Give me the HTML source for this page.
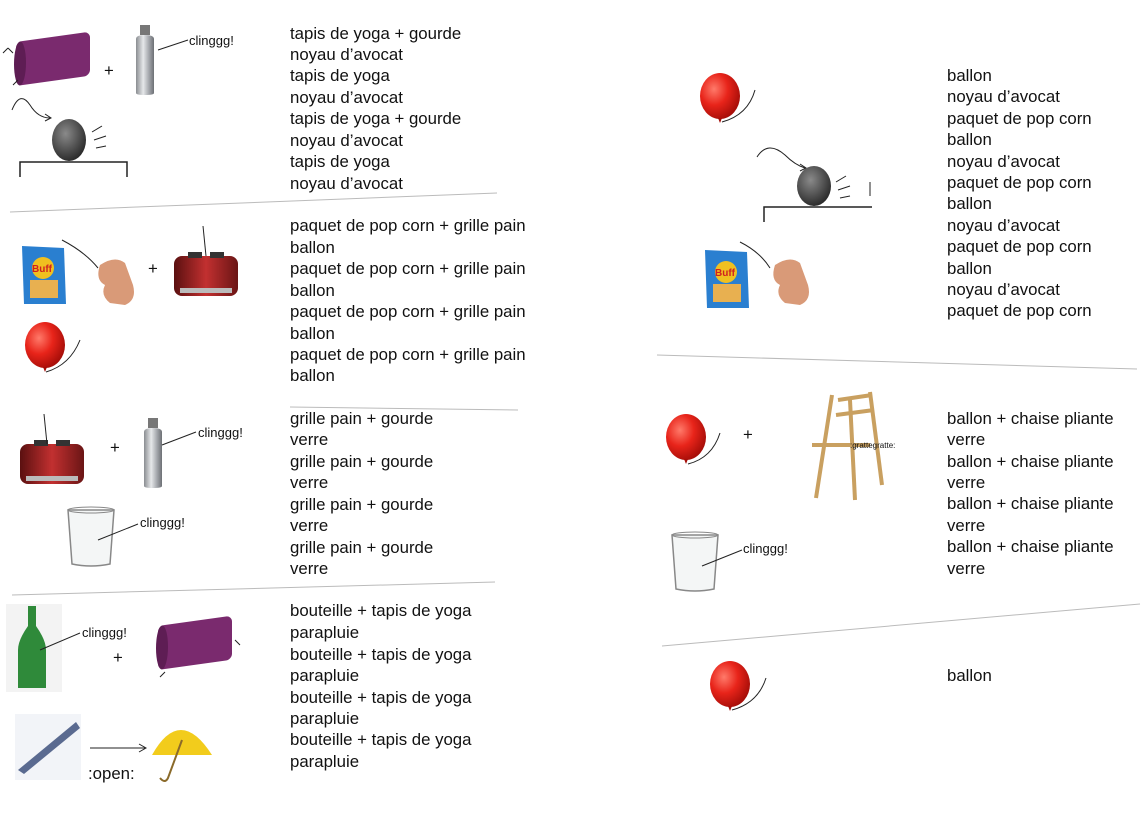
<!DOCTYPE html>
<html><head><meta charset="utf-8"><style>
html,body{margin:0;padding:0;background:#fff;}
svg{display:block;}
text{font-family:"Liberation Sans",sans-serif;fill:#111;}
.t{font-size:16.8px;}
.s{font-size:13px;}
</style></head><body>
<svg width="1142" height="816" viewBox="0 0 1142 816" xmlns="http://www.w3.org/2000/svg">
<defs>
<linearGradient id="metal" x1="0" x2="1"><stop offset="0" stop-color="#8a8d91"/><stop offset=".4" stop-color="#e6e8ea"/><stop offset=".7" stop-color="#a8abb0"/><stop offset="1" stop-color="#6d7075"/></linearGradient>
<radialGradient id="bal" cx=".35" cy=".35" r=".7"><stop offset="0" stop-color="#ff7a6a"/><stop offset=".5" stop-color="#e8241a"/><stop offset="1" stop-color="#a50d08"/></radialGradient>
<linearGradient id="toast" x1="0" x2="1"><stop offset="0" stop-color="#5a1010"/><stop offset=".5" stop-color="#c23030"/><stop offset="1" stop-color="#6a1515"/></linearGradient>
<radialGradient id="pit" cx=".4" cy=".35" r=".7"><stop offset="0" stop-color="#8a8a8a"/><stop offset="1" stop-color="#262626"/></radialGradient>
<g id="mat"><rect x="0" y="0" width="74" height="44" rx="6" fill="#7a2a6e" transform="skewY(-8)"/><ellipse cx="4" cy="22" rx="6" ry="22" fill="#5e1d54" transform="skewY(-8)"/></g>
<g id="gourd"><rect x="4" y="0" width="10" height="10" fill="#777"/><path d="M0 14 Q0 10 9 10 Q18 10 18 14 V68 Q18 70 9 70 Q0 70 0 68Z" fill="url(#metal)"/></g>
<g id="balloon"><ellipse cx="0" cy="0" rx="20" ry="23" fill="url(#bal)"/><path d="M-2 22 l4 0 l-2 5z" fill="#a50d08"/></g>
<g id="glass"><path d="M0 0 L46 0 L42 54 Q23 58 4 54 Z" fill="#f4f6f6" stroke="#888" stroke-width="1.5"/><ellipse cx="23" cy="0" rx="23" ry="3" fill="none" stroke="#888"/></g>
<g id="pop"><path d="M0 0 L42 2 L44 58 L2 58 Z" fill="#2a7fd0"/><circle cx="21" cy="22" r="11" fill="#f0c020"/><rect x="8" y="34" width="28" height="18" fill="#e8b050"/><text x="10" y="26" style="font-size:10px;font-weight:bold;fill:#d02020">Buff</text></g>
<g id="hand"><path d="M5 10 Q20 0 30 8 L38 30 Q42 45 30 50 L15 48 Q5 40 10 30 Q0 25 5 10Z" fill="#d99a78"/></g>
<g id="toaster"><rect x="0" y="8" width="64" height="40" rx="8" fill="url(#toast)"/><rect x="6" y="40" width="52" height="5" fill="#bbb"/><rect x="14" y="4" width="14" height="6" fill="#333"/><rect x="36" y="4" width="14" height="6" fill="#333"/></g>
</defs>

<use href="#mat" x="16" y="42"/>
<path d="M8 48 l-5 5 m5 -5 l5 5 M18 80 l-5 5" stroke="#222" fill="none"/>
<text class="t" x="104" y="76">+</text>
<use href="#gourd" x="136" y="25"/>
<path d="M158 50 L188 40" stroke="#222"/>
<text class="s" x="189" y="45">clinggg!</text>
<path d="M12 110 Q20 90 30 105 Q38 118 50 118" stroke="#222" fill="none"/><path d="M45 114 l6 4 l-6 3" stroke="#222" fill="none"/>
<ellipse cx="69" cy="140" rx="17" ry="21" fill="url(#pit)"/>
<path d="M92 132 l10 -6 M94 140 l12 -4 M96 148 l10 -2" stroke="#222"/>
<path d="M20 177 V162 H127 V177" stroke="#222" stroke-width="1.5" fill="none"/>

<text class="t" x="290" y="39">tapis de yoga + gourde</text>
<text class="t" x="290" y="60">noyau d’avocat</text>
<text class="t" x="290" y="81">tapis de yoga</text>
<text class="t" x="290" y="103">noyau d’avocat</text>
<text class="t" x="290" y="124">tapis de yoga + gourde</text>
<text class="t" x="290" y="146">noyau d’avocat</text>
<text class="t" x="290" y="167">tapis de yoga</text>
<text class="t" x="290" y="189">noyau d’avocat</text>
<line x1="10" y1="212" x2="497" y2="193" stroke="#bbb"/>

<use href="#pop" x="22" y="246"/>
<path d="M62 240 Q85 252 98 268" stroke="#222" fill="none"/>
<use href="#hand" x="95" y="255"/>
<text class="t" x="148" y="274">+</text>
<use href="#toaster" x="174" y="248"/>
<path d="M203 226 L206 256" stroke="#222"/>
<use href="#balloon" x="45" y="345"/>
<path d="M46 372 Q70 365 80 340" stroke="#222" fill="none"/>

<text class="t" x="290" y="231">paquet de pop corn + grille pain</text>
<text class="t" x="290" y="253">ballon</text>
<text class="t" x="290" y="274">paquet de pop corn + grille pain</text>
<text class="t" x="290" y="296">ballon</text>
<text class="t" x="290" y="317">paquet de pop corn + grille pain</text>
<text class="t" x="290" y="339">ballon</text>
<text class="t" x="290" y="360">paquet de pop corn + grille pain</text>
<text class="t" x="290" y="381">ballon</text>
<line x1="290" y1="407" x2="518" y2="410" stroke="#bbb"/>

<use href="#toaster" x="20" y="436"/>
<path d="M44 414 L47 444" stroke="#222"/>
<text class="t" x="110" y="453">+</text>
<use href="#gourd" x="144" y="418"/>
<path d="M162 445 L196 432" stroke="#222"/>
<text class="s" x="198" y="437">clinggg!</text>
<use href="#glass" x="68" y="510"/>
<path d="M98 540 L138 524" stroke="#222"/>
<text class="s" x="140" y="527">clinggg!</text>

<text class="t" x="290" y="424">grille pain + gourde</text>
<text class="t" x="290" y="445">verre</text>
<text class="t" x="290" y="467">grille pain + gourde</text>
<text class="t" x="290" y="488">verre</text>
<text class="t" x="290" y="510">grille pain + gourde</text>
<text class="t" x="290" y="531">verre</text>
<text class="t" x="290" y="553">grille pain + gourde</text>
<text class="t" x="290" y="574">verre</text>
<line x1="12" y1="595" x2="495" y2="582" stroke="#bbb"/>

<rect x="6" y="604" width="56" height="88" fill="#f3f3f3"/>
<path d="M28 606 h8 v20 Q46 640 46 650 V688 H18 V650 Q18 640 28 626Z" fill="#2f8a3a"/>
<path d="M40 650 L80 633" stroke="#222"/>
<text class="s" x="82" y="637">clinggg!</text>
<text class="t" x="113" y="663">+</text>
<use href="#mat" x="158" y="626"/>
<path d="M165 672 l-5 5 M235 640 l5 5" stroke="#222"/>
<rect x="15" y="714" width="66" height="66" fill="#f2f4f8"/>
<path d="M18 770 L76 722 L80 728 L24 774Z" fill="#5a6a90"/>
<line x1="90" y1="748" x2="145" y2="748" stroke="#222"/><path d="M139 744 l7 4 l-7 4" stroke="#222" fill="none"/>
<text class="t" x="88" y="779">:open:</text>
<path d="M152 755 Q180 705 212 755 Z" fill="#f2cc1c"/>
<path d="M182 740 L168 778 Q165 784 160 778" stroke="#8a6a2a" stroke-width="2" fill="none"/>

<text class="t" x="290" y="616">bouteille + tapis de yoga</text>
<text class="t" x="290" y="638">parapluie</text>
<text class="t" x="290" y="660">bouteille + tapis de yoga</text>
<text class="t" x="290" y="681">parapluie</text>
<text class="t" x="290" y="703">bouteille + tapis de yoga</text>
<text class="t" x="290" y="724">parapluie</text>
<text class="t" x="290" y="745">bouteille + tapis de yoga</text>
<text class="t" x="290" y="767">parapluie</text>

<use href="#balloon" x="720" y="96"/>
<path d="M722 122 Q748 115 755 90" stroke="#222" fill="none"/>
<path d="M757 157 Q768 140 785 155 Q795 165 805 168" stroke="#222" fill="none"/><path d="M800 164 l6 4 l-6 3" stroke="#222" fill="none"/>
<ellipse cx="814" cy="186" rx="17" ry="20" fill="url(#pit)"/>
<path d="M836 182 l10 -6 M838 190 l12 -4 M840 198 l10 -2 M870 182 v14" stroke="#222"/>
<path d="M764 222 V207 H872" stroke="#222" stroke-width="1.5" fill="none"/>
<use href="#pop" x="705" y="250"/>
<path d="M740 242 Q760 252 770 268" stroke="#222" fill="none"/>
<use href="#hand" x="770" y="255"/>

<text class="t" x="947" y="81">ballon</text>
<text class="t" x="947" y="102">noyau d’avocat</text>
<text class="t" x="947" y="124">paquet de pop corn</text>
<text class="t" x="947" y="145">ballon</text>
<text class="t" x="947" y="167">noyau d’avocat</text>
<text class="t" x="947" y="188">paquet de pop corn</text>
<text class="t" x="947" y="209">ballon</text>
<text class="t" x="947" y="231">noyau d’avocat</text>
<text class="t" x="947" y="252">paquet de pop corn</text>
<text class="t" x="947" y="274">ballon</text>
<text class="t" x="947" y="295">noyau d’avocat</text>
<text class="t" x="947" y="316">paquet de pop corn</text>
<line x1="657" y1="355" x2="1137" y2="369" stroke="#bbb"/>

<use href="#balloon" x="686" y="437"/>
<path d="M688 464 Q712 458 720 433" stroke="#222" fill="none"/>
<text class="t" x="743" y="440">+</text>
<g stroke="#c9a060" stroke-width="4" fill="none">
<line x1="832" y1="395" x2="816" y2="498"/><line x1="870" y1="392" x2="882" y2="485"/>
<line x1="850" y1="400" x2="855" y2="500"/><line x1="812" y1="445" x2="870" y2="445"/>
<line x1="838" y1="400" x2="872" y2="395"/><line x1="836" y1="415" x2="874" y2="410"/>
</g>
<text x="850" y="448" style="font-size:8px">:grattegratte:</text>
<use href="#glass" x="672" y="535"/>
<path d="M702 566 L742 550" stroke="#222"/>
<text class="s" x="743" y="553">clinggg!</text>

<text class="t" x="947" y="424">ballon + chaise pliante</text>
<text class="t" x="947" y="445">verre</text>
<text class="t" x="947" y="467">ballon + chaise pliante</text>
<text class="t" x="947" y="488">verre</text>
<text class="t" x="947" y="509">ballon + chaise pliante</text>
<text class="t" x="947" y="531">verre</text>
<text class="t" x="947" y="552">ballon + chaise pliante</text>
<text class="t" x="947" y="574">verre</text>
<line x1="662" y1="646" x2="1140" y2="604" stroke="#bbb"/>

<use href="#balloon" x="730" y="684"/>
<path d="M732 710 Q758 703 766 678" stroke="#222" fill="none"/>
<text class="t" x="947" y="681">ballon</text>
</svg>
</body></html>
